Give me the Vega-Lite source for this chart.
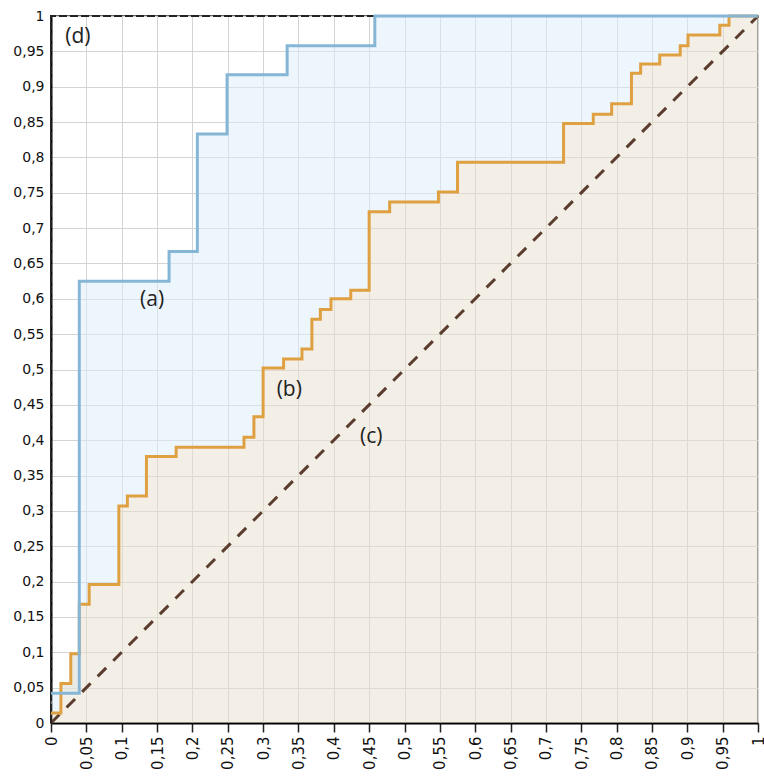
{
  "$schema": "https://vega.github.io/schema/vega-lite/v6.json",
  "autosize": {"type": "none"},
  "padding": {"left": 51, "top": 16, "right": 6, "bottom": 57},
  "width": 707,
  "height": 707,
  "background": "white",
  "config": {
    "view": {"stroke": "#333333", "strokeWidth": 1.5, "fill": "white"},
    "axis": {
      "labelFont": "DejaVu Sans",
      "labelColor": "#111111",
      "gridColor": "#d4d4d4",
      "gridWidth": 1,
      "domainColor": "#000000",
      "domainWidth": 2,
      "labelOverlap": false,
      "labelExpr": "replace(format(datum.value, '~g'), '.', ',')",
      "tickCount": 20,
      "title": null
    },
    "axisY": {
      "labelFontSize": 14,
      "labelPadding": 7,
      "ticks": false,
      "grid": true
    },
    "axisX": {
      "labelAngle": 270,
      "labelAlign": "right",
      "labelBaseline": "middle",
      "labelFontSize": 15,
      "labelPadding": 4,
      "tickSize": 9,
      "tickWidth": 1.5,
      "tickColor": "#222222",
      "grid": true
    }
  },
  "datasets": {
    "roc": [
      {"fpr": 0.000, "a": 0.042, "b": 0.014},
      {"fpr": 0.014, "a": 0.042, "b": 0.056},
      {"fpr": 0.028, "a": 0.042, "b": 0.098},
      {"fpr": 0.040, "a": 0.625, "b": 0.168},
      {"fpr": 0.054, "a": 0.625, "b": 0.196},
      {"fpr": 0.096, "a": 0.625, "b": 0.307},
      {"fpr": 0.108, "a": 0.625, "b": 0.321},
      {"fpr": 0.135, "a": 0.625, "b": 0.377},
      {"fpr": 0.167, "a": 0.667, "b": 0.377},
      {"fpr": 0.177, "a": 0.667, "b": 0.390},
      {"fpr": 0.207, "a": 0.833, "b": 0.390},
      {"fpr": 0.249, "a": 0.917, "b": 0.390},
      {"fpr": 0.273, "a": 0.917, "b": 0.404},
      {"fpr": 0.287, "a": 0.917, "b": 0.433},
      {"fpr": 0.300, "a": 0.917, "b": 0.502},
      {"fpr": 0.329, "a": 0.917, "b": 0.515},
      {"fpr": 0.334, "a": 0.958, "b": 0.515},
      {"fpr": 0.355, "a": 0.958, "b": 0.529},
      {"fpr": 0.369, "a": 0.958, "b": 0.571},
      {"fpr": 0.381, "a": 0.958, "b": 0.585},
      {"fpr": 0.396, "a": 0.958, "b": 0.600},
      {"fpr": 0.424, "a": 0.958, "b": 0.612},
      {"fpr": 0.450, "a": 0.958, "b": 0.723},
      {"fpr": 0.458, "a": 1.000, "b": 0.723},
      {"fpr": 0.479, "a": 1.000, "b": 0.737},
      {"fpr": 0.548, "a": 1.000, "b": 0.751},
      {"fpr": 0.575, "a": 1.000, "b": 0.793},
      {"fpr": 0.725, "a": 1.000, "b": 0.848},
      {"fpr": 0.767, "a": 1.000, "b": 0.861},
      {"fpr": 0.793, "a": 1.000, "b": 0.876},
      {"fpr": 0.821, "a": 1.000, "b": 0.919},
      {"fpr": 0.834, "a": 1.000, "b": 0.932},
      {"fpr": 0.861, "a": 1.000, "b": 0.945},
      {"fpr": 0.890, "a": 1.000, "b": 0.958},
      {"fpr": 0.901, "a": 1.000, "b": 0.973},
      {"fpr": 0.946, "a": 1.000, "b": 0.987},
      {"fpr": 0.959, "a": 1.000, "b": 1.000},
      {"fpr": 1.000, "a": 1.000, "b": 1.000}
    ],
    "diag": [
      {"fpr": 0, "tpr": 0},
      {"fpr": 1, "tpr": 1}
    ],
    "perfect": [
      {"i": 0, "fpr": 0, "tpr": 0},
      {"i": 1, "fpr": 0, "tpr": 1},
      {"i": 2, "fpr": 1, "tpr": 1}
    ],
    "labels": [
      {"label": "(a)", "fpr": 0.143, "tpr": 0.598},
      {"label": "(b)", "fpr": 0.337, "tpr": 0.471},
      {"label": "(c)", "fpr": 0.453, "tpr": 0.405},
      {"label": "(d)", "fpr": 0.038, "tpr": 0.970}
    ]
  },
  "encoding": {
    "x": {
      "field": "fpr",
      "type": "quantitative",
      "scale": {"domain": [0, 1], "nice": false, "zero": false}
    }
  },
  "layer": [
    {
      "data": {"name": "roc"},
      "mark": {"type": "area", "interpolate": "step-after", "color": "#dbedf9", "opacity": 0.5},
      "encoding": {
        "y": {
          "field": "b",
          "type": "quantitative",
          "scale": {"domain": [0, 1], "nice": false, "zero": false}
        },
        "y2": {"field": "a"}
      }
    },
    {
      "data": {"name": "roc"},
      "mark": {"type": "area", "interpolate": "step-after", "color": "#e7dfcf", "opacity": 0.5},
      "encoding": {
        "y": {"field": "b", "type": "quantitative"},
        "y2": {"datum": 0}
      }
    },
    {
      "data": {"name": "diag"},
      "mark": {"type": "line", "color": "#5a3d2e", "strokeWidth": 3, "strokeDash": [12, 10]},
      "encoding": {
        "y": {"field": "tpr", "type": "quantitative"}
      }
    },
    {
      "data": {"name": "perfect"},
      "mark": {"type": "line", "color": "#222222", "strokeWidth": 2, "strokeDash": [8, 3]},
      "encoding": {
        "y": {"field": "tpr", "type": "quantitative"},
        "order": {"field": "i"}
      }
    },
    {
      "data": {"name": "roc"},
      "mark": {"type": "line", "interpolate": "step-after", "color": "#dfa042", "strokeWidth": 3},
      "encoding": {
        "y": {"field": "b", "type": "quantitative"}
      }
    },
    {
      "data": {"name": "roc"},
      "mark": {"type": "line", "interpolate": "step-after", "color": "#86b6d6", "strokeWidth": 3},
      "encoding": {
        "y": {"field": "a", "type": "quantitative"}
      }
    },
    {
      "data": {"name": "labels"},
      "mark": {"type": "text", "font": "Open Sans", "fontSize": 21, "color": "#222222", "align": "center", "baseline": "middle"},
      "encoding": {
        "y": {"field": "tpr", "type": "quantitative"},
        "text": {"field": "label"}
      }
    }
  ]
}
